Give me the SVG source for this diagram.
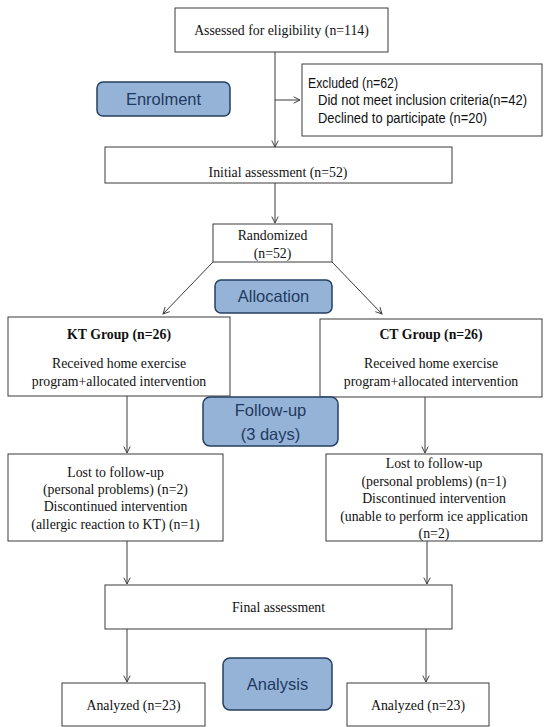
<svg xmlns="http://www.w3.org/2000/svg" width="550" height="727" viewBox="0 0 550 727">
<style>
.box{fill:#fff;stroke:#3a3a3a;stroke-width:1}
.stage{fill:#95b3d7;stroke:#243f60;stroke-width:1.5}
.st{font-family:"Liberation Sans",Arial,sans-serif;font-size:16.5px;fill:#1f3a60;text-anchor:middle}
.t{font-family:"Liberation Serif","Times New Roman",serif;font-size:13.8px;fill:#111;text-anchor:middle}
.b{font-weight:bold}
.s{font-family:"Liberation Sans",Arial,sans-serif;font-size:14px;fill:#111}
.ln{fill:none;stroke:#3a3a3a;stroke-width:1;marker-end:url(#ah)}
</style>
<defs>
<marker id="ah" viewBox="0 0 10 10" refX="9" refY="5" markerWidth="8" markerHeight="8" markerUnits="userSpaceOnUse" orient="auto">
<path d="M1,1 L9,5 L1,9" fill="none" stroke="#3a3a3a" stroke-width="1.2"/>
</marker>
</defs>
<rect width="550" height="727" fill="#fff"/>
<g id="connectors">
<line class="ln" x1="275" y1="52" x2="275" y2="147"/>
<line class="ln" x1="275" y1="100" x2="300" y2="100"/>
<line class="ln" x1="275" y1="183" x2="275" y2="223"/>
<line class="ln" x1="213" y1="262" x2="163" y2="314"/>
<line class="ln" x1="332" y1="262" x2="382" y2="314"/>
<line class="ln" x1="127" y1="396" x2="127" y2="453"/>
<line class="ln" x1="425" y1="397" x2="425" y2="453"/>
<line class="ln" x1="127" y1="541" x2="127" y2="584"/>
<line class="ln" x1="427" y1="541" x2="427" y2="584"/>
<line class="ln" x1="127" y1="629" x2="127" y2="682"/>
<line class="ln" x1="426" y1="629" x2="426" y2="682"/>
</g>
<g id="assessed">
<rect class="box" x="175" y="8" width="213" height="44"/>
<text class="t" x="281.5" y="35">Assessed for eligibility (n=114)</text>
</g>
<g id="excluded">
<rect class="box" x="302" y="64" width="240" height="72"/>
<text class="s" x="308" y="88" textLength="90" lengthAdjust="spacingAndGlyphs">Excluded (n=62)</text>
<text class="s" x="318" y="105" textLength="209" lengthAdjust="spacingAndGlyphs">Did not meet inclusion criteria(n=42)</text>
<text class="s" x="318" y="123" textLength="169" lengthAdjust="spacingAndGlyphs">Declined to participate (n=20)</text>
</g>
<g id="enrolment">
<rect class="stage" x="97" y="82" width="133" height="34" rx="6"/>
<text class="st" x="163.5" y="105">Enrolment</text>
</g>
<g id="initial">
<rect class="box" x="105" y="147" width="347" height="36"/>
<text class="t" x="278" y="177">Initial assessment (n=52)</text>
</g>
<g id="randomized">
<rect class="box" x="213" y="224" width="119" height="38"/>
<text class="t" x="272.5" y="240">Randomized</text>
<text class="t" x="272.5" y="258">(n=52)</text>
</g>
<g id="allocation">
<rect class="stage" x="215" y="280" width="117" height="33" rx="6"/>
<text class="st" x="273.5" y="302">Allocation</text>
</g>
<g id="kt">
<rect class="box" x="8" y="317" width="222" height="79"/>
<text class="t b" x="119" y="339">KT Group (n=26)</text>
<text class="t" x="119" y="368">Received home exercise</text>
<text class="t" x="119" y="386">program+allocated intervention</text>
</g>
<g id="ct">
<rect class="box" x="320" y="319" width="222" height="78"/>
<text class="t b" x="431" y="339">CT Group (n=26)</text>
<text class="t" x="431" y="368">Received home exercise</text>
<text class="t" x="431" y="386">program+allocated intervention</text>
</g>
<g id="followup">
<rect class="stage" x="203" y="397" width="135" height="49" rx="7"/>
<text class="st" x="270.5" y="416">Follow-up</text>
<text class="st" x="270.5" y="440">(3 days)</text>
</g>
<g id="kt-lost">
<rect class="box" x="8" y="454" width="215" height="87"/>
<text class="t" x="115.5" y="477">Lost to follow-up</text>
<text class="t" x="115.5" y="494">(personal problems) (n=2)</text>
<text class="t" x="115.5" y="511">Discontinued intervention</text>
<text class="t" x="115.5" y="529">(allergic reaction to KT) (n=1)</text>
</g>
<g id="ct-lost">
<rect class="box" x="326" y="454" width="216" height="87"/>
<text class="t" x="434" y="468">Lost to follow-up</text>
<text class="t" x="434" y="486">(personal problems) (n=1)</text>
<text class="t" x="434" y="503">Discontinued intervention</text>
<text class="t" x="434" y="521">(unable to perform ice application</text>
<text class="t" x="434" y="538">(n=2)</text>
</g>
<g id="final">
<rect class="box" x="105" y="585" width="347" height="44"/>
<text class="t" x="278.5" y="612">Final assessment</text>
</g>
<g id="analysis">
<rect class="stage" x="223" y="658" width="109" height="52" rx="7"/>
<text class="st" x="277.5" y="690">Analysis</text>
</g>
<g id="analyzed-kt">
<rect class="box" x="62" y="683" width="143" height="43"/>
<text class="t" x="133.5" y="710">Analyzed (n=23)</text>
</g>
<g id="analyzed-ct">
<rect class="box" x="347" y="683" width="142" height="43"/>
<text class="t" x="418" y="710">Analyzed (n=23)</text>
</g>
</svg>
